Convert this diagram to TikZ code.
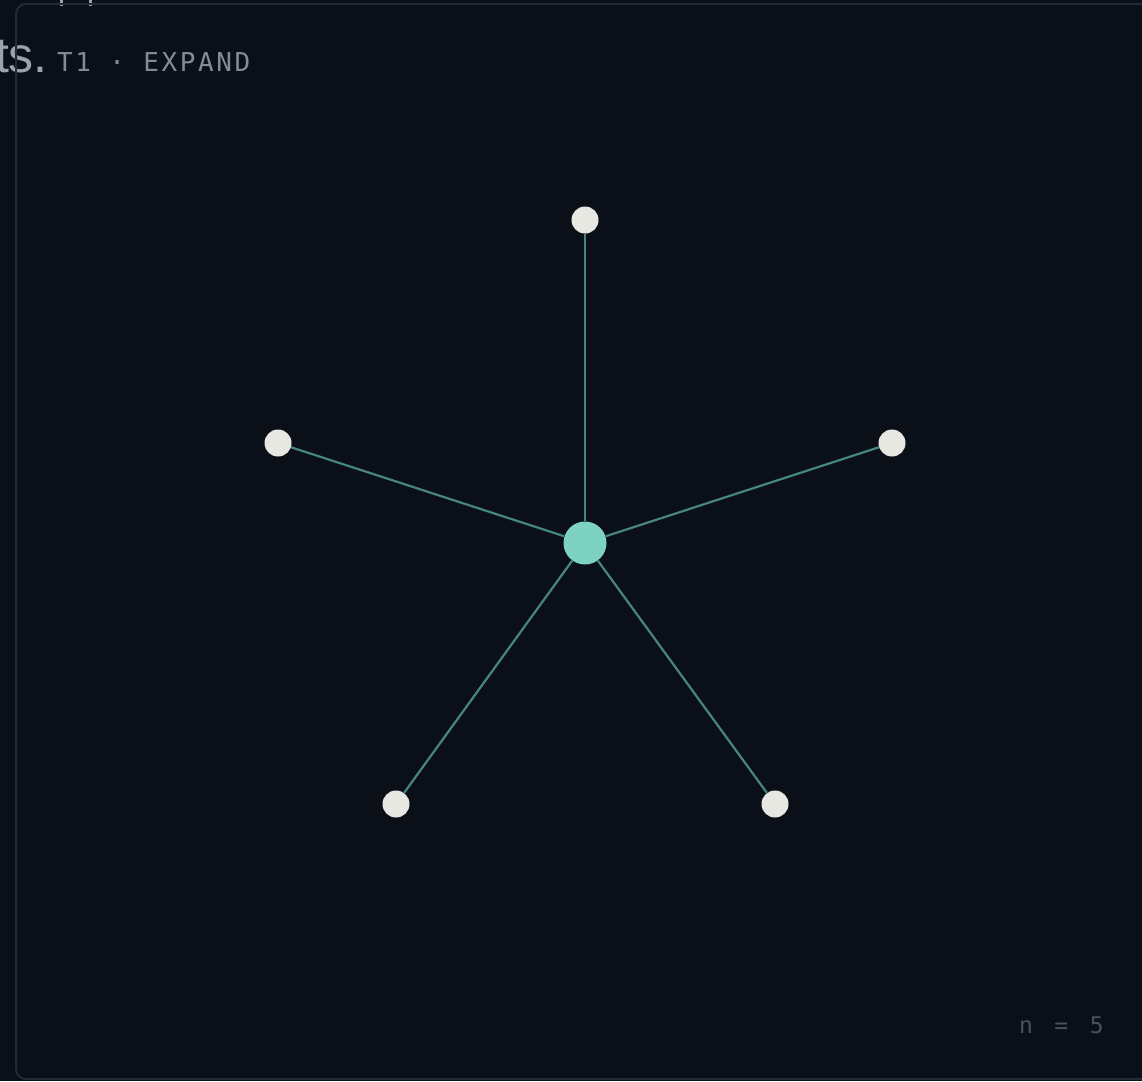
\documentclass[tikz,border=0pt]{standalone}
\usepackage{fontspec}
\setmainfont{Liberation Sans}
\newfontfamily\monof[LetterSpace=10]{DejaVu Sans Mono}
\newfontfamily\monow[LetterSpace=33]{DejaVu Sans Mono}
\newfontfamily\sansf{Liberation Sans}
\definecolor{bg}{HTML}{0B0F18}
\definecolor{frame}{HTML}{232936}
\definecolor{edgec}{HTML}{468580}
\definecolor{hub}{HTML}{7DD3C0}
\definecolor{leaf}{HTML}{E8E8E3}
\definecolor{labelc}{HTML}{858B96}
\definecolor{dimc}{HTML}{4A505C}
\definecolor{bigtext}{HTML}{9EA3AB}
\tikzset{
  hubnode/.style={circle,fill=hub,minimum size=43pt,inner sep=0pt},
  leafnode/.style={circle,fill=leaf,minimum size=27pt,inner sep=0pt},
  spoke/.style={draw=edgec,line width=2.2pt},
}
\begin{document}
\begin{tikzpicture}[x=1pt,y=-1pt]
\useasboundingbox[fill=bg] (0,0) rectangle (1142,1081);
% cut-off text pieces from outside
\node[anchor=base east,inner sep=0pt,text=bigtext,font=\sansf\fontsize{50}{50}\selectfont] (big) at (48,73) {ts.};
\fill[bigtext] (60,0) rectangle (63,6);
\fill[bigtext] (89,0) rectangle (92,6);
% frame
\draw[frame,line width=2pt,rounded corners=10pt] (16,4) rectangle (1170,1079);
% labels
\node[anchor=base west,inner sep=0pt,text=labelc,font=\monof\fontsize{26}{26}\selectfont] (title) at (57,71) {T1 · EXPAND};
\node[anchor=base west,inner sep=0pt,text=dimc,font=\monow\fontsize{23}{23}\selectfont] (count) at (1019,1033) {n = 5};
% graph
\node[hubnode] (c) at (585,543) {};
\node[leafnode] (a) at (585,220) {};
\node[leafnode] (b) at (892,443) {};
\node[leafnode] (d) at (775,804) {};
\node[leafnode] (e) at (396,804) {};
\node[leafnode] (f) at (278,443) {};
\foreach \t in {a,b,d,e,f}{\draw[spoke] (c) -- (\t);}
\end{tikzpicture}
\end{document}
